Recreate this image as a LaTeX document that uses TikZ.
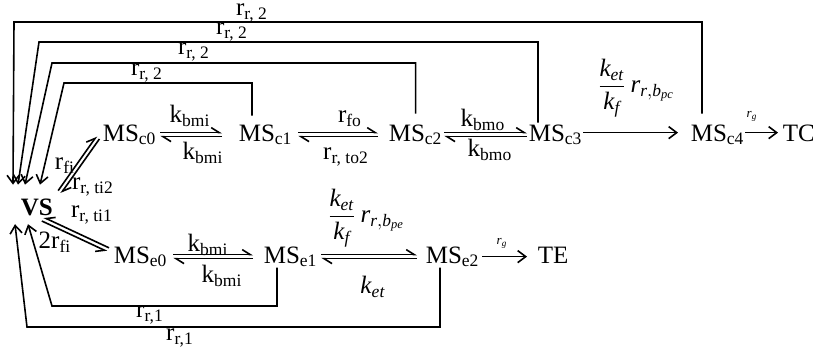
\documentclass[tikz,border=0pt]{standalone}
\usepackage{amsmath}
\usepackage{fontspec}
\setmainfont{Liberation Serif}
\usepackage{tikz}
\usetikzlibrary{arrows.meta, positioning, calc}

\tikzset{
  ms/.style={inner sep=0pt, anchor=base west},
  lbl/.style={inner sep=0pt},
  harpL/.style={-{Straight Barb[left,length=4pt,width=5pt]}},
  harpR/.style={-{Straight Barb[right,length=4pt,width=5pt]}},
  arr/.style={-{Straight Barb[length=4pt,width=6pt]}},
  fback/.style={-{Straight Barb[length=4pt,width=6pt]}}
}

\begin{document}
\begin{tikzpicture}[x=0.5pt, y=-0.5pt, line width=0.8pt, font=\fontsize{12.5pt}{15pt}\selectfont]
        \useasboundingbox (0,0) rectangle (813,350);

        % species
        \node[ms, font=\fontsize{12.5pt}{15pt}\selectfont\bfseries] (VS) at (20,215) {VS};
        \node[ms] (c0) at (102,141) {MS\textsubscript{c0}};
        \node[ms] (c1) at (238,141) {MS\textsubscript{c1}};
        \node[ms] (c2) at (388,141) {MS\textsubscript{c2}};
        \node[ms] (c3) at (528,141) {MS\textsubscript{c3}};
        \node[ms] (c4) at (690,141) {MS\textsubscript{c4}};
        \node[ms] (TC) at (782,141) {TC};
        \node[ms] (e0) at (113,263) {MS\textsubscript{e0}};
        \node[ms] (e1) at (263,263) {MS\textsubscript{e1}};
        \node[ms] (e2) at (425,263) {MS\textsubscript{e2}};
        \node[ms] (TE) at (537,263) {TE};

        % upper chain
        \draw[harpL, shorten <=1.5pt, shorten >=8pt] ([yshift=1pt]c0.east) -- ([yshift=1pt]c1.west);
        \draw[harpL, shorten <=8pt, shorten >=1.5pt] ([yshift=-1pt]c1.west) -- ([yshift=-1pt]c0.east);
        \draw[harpL, shorten <=2.5pt, shorten >=5pt] ([yshift=1pt]c1.east) -- ([yshift=1pt]c2.west);
        \draw[harpL, shorten <=5pt, shorten >=2.5pt] ([yshift=-1pt]c2.west) -- ([yshift=-1pt]c1.east);
        \draw[harpL, shorten <=0.5pt, shorten >=0.5pt] ([yshift=1pt]c2.east) -- ([yshift=1pt]c3.west);
        \draw[harpL, shorten <=0.5pt, shorten >=0.5pt] ([yshift=-1pt]c3.west) -- ([yshift=-1pt]c2.east);
        \draw[arr, shorten >=6pt] ([yshift=1pt]c3.east) -- ([yshift=1pt]c4.west);
        \draw[arr, shorten >=2pt] ([yshift=1pt]c4.east) -- ([yshift=1pt]c4.east -| TC.west);

        % lower chain
        \draw[harpL, shorten <=2.5pt, shorten >=5pt] ([yshift=1pt]e0.east) -- ([yshift=1pt]e1.west);
        \draw[harpL, shorten <=5pt, shorten >=2.5pt] ([yshift=-1pt]e1.west) -- ([yshift=-1pt]e0.east);
        \draw[harpL, shorten <=1.5pt, shorten >=4pt] ([yshift=1pt]e1.east) -- ([yshift=1pt]e2.west);
        \draw[harpL, shorten <=4pt, shorten >=1.5pt] ([yshift=-1pt]e2.west) -- ([yshift=-1pt]e1.east);
        \draw[arr, shorten <=1pt, shorten >=5pt] (e2.east) -- (e2.east -| TE.west);

        % VS exchange
        \draw[harpL] ([xshift=2.3pt,yshift=3.5pt]VS.north east) -- ([xshift=-2.7pt,yshift=4.7pt]c0.south west);
        \draw[harpL] ([xshift=-1.3pt,yshift=3.3pt]c0.south west) -- ([xshift=3.7pt,yshift=2.1pt]VS.north east);
        \draw[harpR] ([xshift=2.5pt,yshift=-2.4pt]VS.south) -- ([xshift=-3pt,yshift=2.6pt]e0.west);
        \draw[harpR] ([xshift=-2pt,yshift=4.4pt]e0.west) -- ([xshift=3.5pt,yshift=-0.6pt]VS.south);

        % returns to VS
        \draw[fback] ([xshift=6pt,yshift=5pt]c4.north west) |- (14,22) -- ([xshift=-3.5pt,yshift=6.5pt]VS.north west);
        \draw[fback] ([xshift=5pt,yshift=0.5pt]c3.north west) |- (39,42) -- ([xshift=-1pt,yshift=6.5pt]VS.north west);
        \draw[fback] ([yshift=5pt]c2.north) |- (52,63) -- ([xshift=2.5pt,yshift=6.5pt]VS.north west);
        \draw[fback] ([xshift=7pt,yshift=4pt]c1.north west) |- (64,83) -- ([xshift=10pt,yshift=6.5pt]VS.north west);
        \draw[fback] ([xshift=7pt]e1.south west) |- (52,306) -- ([xshift=4pt,yshift=-4pt]VS.south west);
        \draw[fback] ([xshift=7.5pt]e2.south west) |- (27,327) -- ([xshift=-2.5pt,yshift=-4pt]VS.south west);

        % rate labels
        \node[lbl] (l1) at (252,13) {r\textsubscript{r, 2}};
        \node[lbl] (l2) at (232,32) {r\textsubscript{r, 2}};
        \node[lbl] (l3) at (194,52) {r\textsubscript{r, 2}};
        \node[lbl] (l4) at (147,73) {r\textsubscript{r, 2}};
        \node[lbl] (l5) at (190,116) {k\textsubscript{bmi}};
        \node[lbl] (l6) at (203,153) {k\textsubscript{bmi}};
        \node[lbl] (l7) at (350,119) {r\textsubscript{fo}};
        \node[lbl] (l8) at (346,157) {r\textsubscript{r, to2}};
        \node[lbl] (l9) at (483,120) {k\textsubscript{bmo}};
        \node[lbl] (l10) at (490,150) {k\textsubscript{bmo}};
        \node[lbl] (l11) at (636,88) {$\dfrac{\textit{k}_{\textit{et}}}{\textit{k}_{\textit{f}}}\,\textit{r}_{\textit{r},\textit{b}_{\textit{pc}}}$};
        \node[lbl, font=\fontsize{6.5pt}{8pt}\selectfont] (l12) at (752,116) {\textit{r}\textsubscript{\textit{g}}};
        \node[lbl] (l13) at (65,166) {r\textsubscript{fi}};
        \node[lbl] (l14) at (93,187) {r\textsubscript{r, ti2}};
        \node[lbl] (l15) at (92,215) {r\textsubscript{r, ti1}};
        \node[lbl] (l16) at (55,242) {2r\textsubscript{fi}};
        \node[lbl] (l17) at (208,245) {k\textsubscript{bmi}};
        \node[lbl] (l18) at (222,276) {k\textsubscript{bmi}};
        \node[lbl] (l19) at (366,218) {$\dfrac{\textit{k}_{\textit{et}}}{\textit{k}_{\textit{f}}}\,\textit{r}_{\textit{r},\textit{b}_{\textit{pe}}}$};
        \node[lbl] (l20) at (373,287) {\textit{k}\textsubscript{\textit{et}}};
        \node[lbl, font=\fontsize{6.5pt}{8pt}\selectfont] (l21) at (502,243) {\textit{r}\textsubscript{\textit{g}}};
        \node[lbl] (l22) at (150,315) {r\textsubscript{r,1}};
        \node[lbl] (l23) at (180,338) {r\textsubscript{r,1}};
\end{tikzpicture}
\end{document}
